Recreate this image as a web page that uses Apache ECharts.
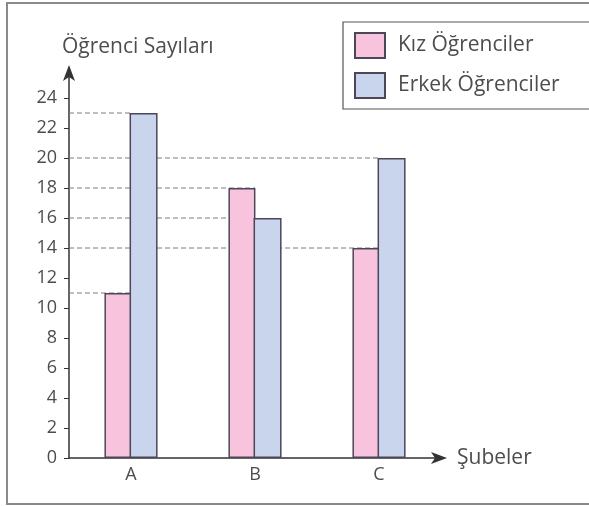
<!DOCTYPE html>
<html><head><meta charset="utf-8">
<script src="https://cdn.jsdelivr.net/npm/echarts@6/dist/echarts.min.js"></script>
<style>html,body{margin:0;padding:0;background:#fff}#c{width:589px;height:506px}</style>
</head><body><div id="c"></div>
<script>
const categories = ['A', 'B', 'C'];
const kizValues = [11, 18, 14];
const erkekValues = [23, 16, 20];
const yTickValues = [0, 2, 4, 6, 8, 10, 12, 14, 16, 18, 20, 22, 24];
const seriesNames = ['Kız Öğrenciler', 'Erkek Öğrenciler'];
const yAxisName = 'Öğrenci Sayıları';
const xAxisName = 'Şubeler';

const FONT = '"Open Sans", "Noto Sans", sans-serif';
const TXT = '#4d4d4d';
const guideData = [];
categories.forEach((c, i) => {
  guideData.push([i, kizValues[i]]);
  guideData.push([i, erkekValues[i]]);
});

const chart = echarts.init(document.getElementById('c'), null, {renderer: 'canvas'});
chart.setOption({
  animation: false,
  backgroundColor: '#fff',
  graphic: [{
    type: 'rect', shape: {x: 7, y: 3, width: 592, height: 501},
    style: {fill: 'none', stroke: '#8a8a8a', lineWidth: 2}, z: 0
  }],
  grid: {left: 69, right: 148, top: 68, bottom: 48, containLabel: false},
  legend: {
    data: seriesNames,
    orient: 'vertical',
    icon: 'rect',
    left: 343, top: 22,
    width: 244, height: 85,
    padding: [10, 60, 10, 11],
    itemWidth: 30, itemHeight: 25, itemGap: 13,
    borderColor: '#555', borderWidth: 1.2, borderRadius: 0,
    textStyle: {fontFamily: FONT, fontSize: 21, color: TXT, padding: [0, 0, 0, 8]},
    selectedMode: false
  },
  xAxis: {
    type: 'category',
    data: categories,
    name: xAxisName,
    nameLocation: 'end',
    nameGap: 16,
    nameTextStyle: {fontFamily: FONT, fontSize: 21, color: TXT, verticalAlign: 'middle'},
    axisLine: {lineStyle: {color: '#333', width: 1.5}, symbol: ['none', 'arrow'], symbolSize: [9, 16], symbolOffset: [0, 6]},
    axisTick: {show: false},
    axisLabel: {fontFamily: FONT, fontSize: 18, color: TXT, margin: 8},
    splitLine: {show: false}
  },
  yAxis: {
    type: 'value',
    min: 0, max: 26, interval: 2,
    name: yAxisName,
    nameLocation: 'end',
    nameGap: 10,
    nameTextStyle: {fontFamily: FONT, fontSize: 21, color: TXT, align: 'left', padding: [0, 0, 0, -7]},
    axisLine: {show: true, lineStyle: {color: '#333', width: 1.5}, symbol: ['none', 'arrow'], symbolSize: [9, 16], symbolOffset: [0, 3]},
    axisTick: {show: true, inside: false, length: 5, lineStyle: {color: '#333'}, customValues: yTickValues},
    axisLabel: {fontFamily: FONT, fontSize: 18, color: TXT, margin: 12, customValues: yTickValues},
    splitLine: {show: false}
  },
  series: [
    {
      type: 'custom',
      data: guideData,
      silent: true,
      z: 1,
      renderItem: function (params, api) {
        const p = api.coord([api.value(0), api.value(1)]);
        return {
          type: 'line',
          shape: {x1: params.coordSys.x, y1: p[1], x2: p[0], y2: p[1]},
          style: {stroke: '#7d7d7d', lineWidth: 1, lineDash: [5, 3]}
        };
      }
    },
    {
      name: seriesNames[0], type: 'bar', data: kizValues,
      barWidth: 27, barGap: '-7%', z: 3,
      itemStyle: {color: '#f8c4dd', borderColor: '#4d4659', borderWidth: 1.5}
    },
    {
      name: seriesNames[1], type: 'bar', data: erkekValues,
      barWidth: 28, barGap: '-7%', z: 3,
      itemStyle: {color: '#c9d5ec', borderColor: '#4d4659', borderWidth: 1.5}
    }
  ]
});
</script></body></html>
